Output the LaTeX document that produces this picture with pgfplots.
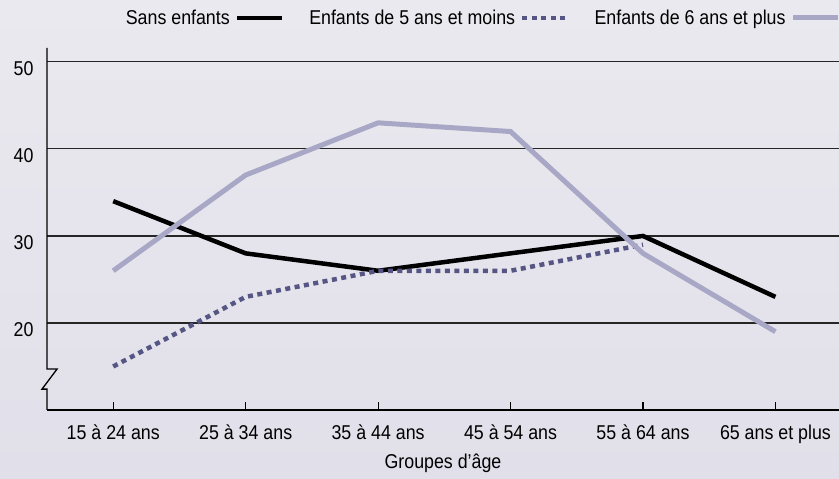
\documentclass[border=0pt]{standalone}
\usepackage{pgfplots}
\pgfplotsset{compat=1.18}
\usepackage{fontspec}
\setmainfont{Liberation Sans}[FakeStretch=0.89]
\definecolor{bgtop}{HTML}{EAE9EF}
\definecolor{bgbot}{HTML}{E1E0EA}
\definecolor{lightser}{HTML}{A8A8C6}
\definecolor{darkser}{HTML}{565684}
\begin{document}
\begin{tikzpicture}[x=1pt,y=1pt]
\useasboundingbox (0,0) rectangle (839,479);
\shade[top color=bgtop, bottom color=bgbot] (0,0) rectangle (839,479);
\begin{axis}[
  at={(47pt,69pt)}, anchor=south west,
  scale only axis, width=792pt, height=362pt,
  xmin=-0.5, xmax=5.48, ymin=10, ymax=51.6,
  clip=false,
  axis x line*=bottom, axis y line*=left,
  y axis line style={draw=none},
  x axis line style={line width=1.3pt},
  xtick={0,...,5},
  xticklabels={15 à 24 ans,25 à 34 ans,35 à 44 ans,45 à 54 ans,55 à 64 ans,65 ans et plus},
  ytick={20,30,40,50},
  ymajorgrids, grid style={black!85, line width=1.1pt},
  tick align=inside,
  x tick style={black, line width=1.2pt},
  major tick length=8pt,
  y tick style={draw=none},
  /pgf/number format/assume math mode=true,
  tick label style={font=\fontsize{20}{24}\selectfont},
  xticklabel style={yshift=-11pt},
  yticklabel style={xshift=-10pt, yshift=-7pt},
  xlabel={Groupes d’âge},
  xlabel style={font=\fontsize{20}{24}\selectfont, at={(axis description cs:0.5,0)}, anchor=center, yshift=-53pt},
  legend columns=3,
  legend plot pos=right,
  legend image code/.code={\draw[#1] (0pt,0pt) -- (45pt,0pt);},
  legend style={draw=none, fill=none, at={(rel axis cs:0.093,1.083)}, anchor=west,
    font=\fontsize{20}{24}\selectfont,
    /tikz/every odd column/.append style={column sep=3pt},
    /tikz/every even column/.append style={column sep=23pt}},
]
\addplot[black, line width=4.5pt] coordinates {(0,34)(1,28)(2,26)(3,28)(4,30)(5,23)};
\addlegendentry{Sans enfants}
\addplot[darkser, line width=4.5pt, dash pattern=on 5pt off 4.5pt] coordinates {(0,15)(1,23)(2,26)(3,26)(4,29)};
\addlegendentry{Enfants de 5 ans et moins}
\addplot[lightser, line width=5pt] coordinates {(0,26)(1,37)(2,43)(3,42)(4,28)(5,19)};
\addlegendentry{Enfants de 6 ans et plus}
\draw[black, line width=1.3pt] (axis cs:-0.5,10) -- (axis cs:-0.5,12.4) -- ++(-5pt,0pt) -- ([xshift=10pt]axis cs:-0.5,14.7) -- (axis cs:-0.5,14.7) -- (axis cs:-0.5,51.6);
\end{axis}
\end{tikzpicture}
\end{document}
